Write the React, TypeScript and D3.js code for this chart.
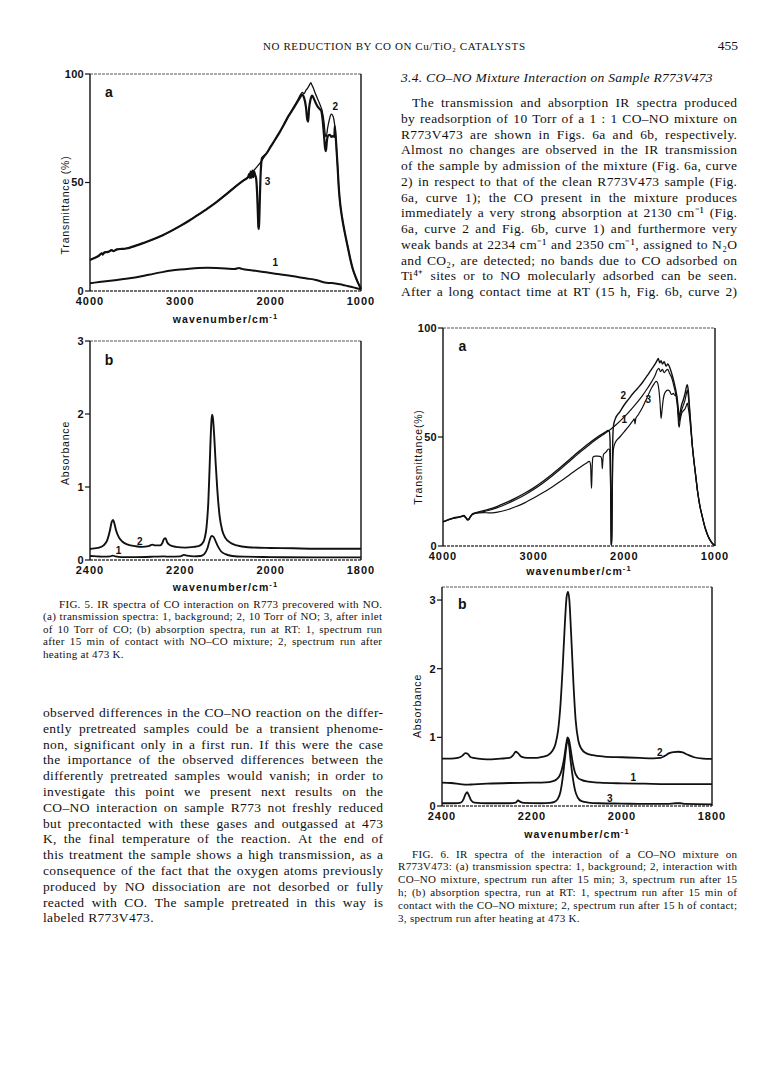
import React from "react";
import * as d3 from "d3";

type Pt = [number, number];

// ---------------- Fig. 5a (transmittance %, wavenumber cm-1) ----------------
const fig5aBackground: Pt[] = [
  [4000, 3.6], [3900, 4.1], [3800, 4.6], [3700, 5.1], [3600, 5.6], [3500, 6.2], [3400, 7.0],
  [3300, 7.9], [3200, 8.7], [3100, 9.4], [3000, 9.9], [2900, 10.3], [2800, 10.6], [2700, 10.7],
  [2600, 10.6], [2500, 10.4], [2400, 10.1], [2350, 10.6], [2320, 10.2], [2200, 9.5], [2100, 8.9],
  [2000, 8.3], [1900, 7.7], [1800, 7.1], [1700, 6.5], [1600, 5.8], [1500, 5.1], [1450, 4.5],
  [1400, 3.9], [1350, 3.7], [1300, 3.6], [1250, 3.2], [1200, 2.8], [1150, 2.3], [1100, 1.8],
  [1050, 1.3], [1000, 0.8],
];
const fig5aHead: Pt[] = [
  [4000, 14.3], [3950, 15.2], [3900, 16.3], [3870, 17.4], [3860, 16.8], [3840, 17.8], [3800, 18.0],
  [3760, 18.8], [3740, 18.4], [3700, 19.2], [3650, 19.4], [3600, 19.6], [3550, 20.1], [3500, 20.8],
  [3400, 22.2], [3300, 23.8], [3200, 25.6], [3100, 27.7], [3000, 30.0], [2900, 32.5], [2800, 35.2],
  [2700, 38.0], [2600, 41.0], [2500, 44.3], [2400, 47.8], [2300, 51.0], [2250, 52.5],
];
const fig5aTail: Pt[] = [
  [1290, 76.0], [1275, 68.0], [1260, 58.0], [1245, 47.0], [1230, 40.0], [1210, 34.0], [1180, 27.0],
  [1150, 21.0], [1120, 15.0], [1090, 10.0], [1060, 6.5], [1030, 3.5], [1000, 1.0],
];
const fig5aNO: Pt[] = [
  ...fig5aHead,
  [2200, 55.0], [2150, 57.3], [2100, 60.0], [2050, 63.2], [2000, 66.5], [1950, 69.8], [1900, 73.2],
  [1850, 77.0], [1800, 80.8], [1750, 84.5], [1700, 88.0], [1670, 90.5], [1650, 91.5], [1630, 91.0],
  [1610, 92.5], [1590, 93.5], [1570, 95.0], [1555, 96.0], [1545, 95.0], [1530, 93.8], [1510, 91.5],
  [1490, 89.5], [1470, 87.5], [1450, 85.5], [1430, 83.0], [1410, 78.0], [1395, 72.0], [1385, 71.0],
  [1370, 75.0], [1350, 79.0], [1330, 81.5], [1315, 81.0], [1300, 79.0],
  ...fig5aTail,
];
const fig5aCO: Pt[] = [
  ...fig5aHead,
  [2238, 54.0], [2230, 52.0], [2222, 55.0], [2212, 52.2], [2202, 55.5], [2192, 52.5], [2182, 55.0],
  [2172, 53.5], [2160, 51.5], [2150, 45.0], [2142, 36.0], [2136, 29.5], [2131, 28.5], [2126, 33.0],
  [2120, 42.0], [2113, 52.0], [2105, 58.5], [2095, 61.3], [2080, 62.0], [2050, 63.2], [2000, 66.5],
  [1950, 69.8], [1900, 73.2], [1850, 77.0], [1800, 80.8], [1750, 84.0], [1700, 87.5], [1670, 89.5],
  [1650, 90.5], [1630, 89.0], [1610, 85.0], [1595, 79.0], [1585, 78.0], [1575, 84.0], [1560, 88.0],
  [1540, 90.0], [1520, 88.5], [1500, 86.5], [1480, 85.0], [1460, 84.0], [1440, 83.0], [1425, 79.0],
  [1410, 72.0], [1398, 66.0], [1388, 64.5], [1378, 69.0], [1365, 71.5], [1345, 72.0], [1325, 71.0],
  [1305, 71.5], [1295, 71.0],
  ...fig5aTail,
];

// ---------------- Fig. 5b (absorbance) ----------------
const fig5bRun15min: Pt[] = [
  [2400, 0.055], [2385, 0.05], [2370, 0.045], [2355, 0.05], [2350, 0.06], [2344, 0.05], [2330, 0.04],
  [2300, 0.04], [2260, 0.045], [2236, 0.05], [2225, 0.045], [2200, 0.05], [2192, 0.07], [2185, 0.06],
  [2170, 0.05], [2155, 0.055], [2147, 0.08], [2140, 0.16], [2135, 0.27], [2131, 0.33], [2127, 0.32],
  [2122, 0.26], [2117, 0.19], [2110, 0.12], [2100, 0.08], [2085, 0.055], [2060, 0.045], [2000, 0.04],
  [1900, 0.035], [1800, 0.035],
];
const fig5bHeated: Pt[] = [
  [2400, 0.15], [2390, 0.16], [2380, 0.17], [2370, 0.2], [2362, 0.27], [2356, 0.4], [2352, 0.52],
  [2349, 0.55], [2346, 0.5], [2342, 0.4], [2336, 0.31], [2328, 0.25], [2316, 0.21], [2300, 0.19],
  [2285, 0.18], [2270, 0.19], [2262, 0.21], [2255, 0.2], [2245, 0.2], [2240, 0.23], [2236, 0.29],
  [2233, 0.3], [2229, 0.24], [2222, 0.2], [2210, 0.18], [2190, 0.17], [2170, 0.18], [2160, 0.19],
  [2152, 0.22], [2146, 0.3], [2142, 0.45], [2138, 0.8], [2135, 1.3], [2132, 1.8], [2130, 1.99],
  [2128, 1.95], [2125, 1.7], [2122, 1.35], [2118, 0.95], [2113, 0.6], [2107, 0.4], [2100, 0.3],
  [2090, 0.24], [2075, 0.2], [2050, 0.175], [2000, 0.165], [1950, 0.16], [1900, 0.155], [1850, 0.155],
  [1800, 0.155],
];

// ---------------- Fig. 6a (transmittance %) ----------------
const fig6aTail: Pt[] = [
  [1250, 46.0], [1235, 40.0], [1215, 33.0], [1192, 25.0], [1165, 18.0], [1140, 13.5], [1110, 8.5],
  [1090, 6.0], [1065, 3.5], [1040, 1.8], [1020, 0.8], [1000, 0.2],
];
const fig6aBackground: Pt[] = [
  [4000, 11.0], [3950, 11.8], [3900, 12.5], [3850, 13.0], [3800, 13.4], [3770, 13.8], [3750, 13.0],
  [3730, 12.0], [3715, 12.2], [3700, 13.2], [3680, 14.3], [3650, 14.9], [3600, 15.4], [3550, 15.8],
  [3500, 16.3], [3400, 17.6], [3300, 19.3], [3200, 21.2], [3100, 23.4], [3000, 25.9], [2900, 28.8],
  [2800, 32.0], [2700, 35.4], [2600, 39.0], [2500, 42.6], [2400, 46.0], [2300, 49.2], [2200, 52.0],
  [2100, 55.3], [2000, 59.2], [1900, 63.8], [1800, 69.0], [1750, 72.0], [1700, 75.3], [1660, 78.3],
  [1640, 80.5], [1620, 81.5], [1600, 80.0], [1580, 81.0], [1560, 79.5], [1540, 80.5], [1520, 81.0],
  [1500, 79.0], [1480, 77.5], [1460, 74.5], [1440, 71.0], [1420, 66.0], [1405, 60.0], [1395, 57.0],
  [1385, 59.0], [1370, 62.0], [1350, 64.5], [1330, 67.0], [1315, 70.0], [1305, 71.5], [1295, 69.0],
  [1280, 62.0], [1265, 54.0],
  ...fig6aTail,
];
const fig6aMix15min: Pt[] = [
  [4000, 11.2], [3950, 12.0], [3900, 12.7], [3850, 13.2], [3800, 13.6], [3770, 14.0], [3750, 13.2],
  [3730, 12.3], [3715, 12.5], [3700, 13.5], [3680, 14.6], [3650, 15.2], [3600, 15.7], [3550, 16.2],
  [3500, 16.8], [3400, 18.2], [3300, 20.0], [3200, 22.0], [3100, 24.2], [3000, 26.7], [2900, 29.6],
  [2800, 32.8], [2700, 36.2], [2600, 39.8], [2500, 43.4], [2400, 46.8], [2300, 49.8], [2250, 51.2],
  [2200, 52.5], [2180, 53.0], [2165, 52.5], [2157, 48.0], [2151, 30.0], [2147, 8.0], [2144, 0.8],
  [2140, 0.5], [2137, 8.0], [2133, 30.0], [2128, 48.0], [2120, 55.0], [2100, 58.3], [2050, 61.5],
  [2000, 64.8], [1950, 67.5], [1900, 70.2], [1850, 72.5], [1800, 75.0], [1750, 78.0], [1700, 81.0],
  [1660, 83.5], [1640, 85.0], [1625, 86.0], [1610, 84.0], [1595, 85.0], [1580, 83.5], [1560, 84.5],
  [1540, 82.5], [1520, 83.5], [1500, 82.0], [1480, 79.5], [1460, 76.5], [1440, 73.0], [1420, 68.5],
  [1405, 63.0], [1395, 58.5], [1385, 61.0], [1370, 64.5], [1350, 67.0], [1330, 70.0], [1315, 73.0],
  [1305, 74.0], [1295, 71.5], [1280, 63.0], [1265, 54.5],
  ...fig6aTail,
];
const fig6aMix15h: Pt[] = [
  [4000, 11.0], [3950, 11.8], [3900, 12.5], [3850, 13.0], [3800, 13.4], [3770, 13.8], [3750, 13.0],
  [3730, 12.0], [3715, 12.2], [3700, 13.2], [3680, 14.3], [3650, 14.9], [3600, 15.2], [3550, 15.3],
  [3500, 15.2], [3450, 15.2], [3400, 15.5], [3300, 16.5], [3200, 18.0], [3100, 19.8], [3000, 22.0],
  [2900, 24.4], [2800, 27.0], [2700, 29.8], [2600, 32.8], [2500, 35.8], [2420, 38.0], [2385, 38.8],
  [2372, 37.0], [2366, 30.0], [2362, 26.5], [2358, 31.0], [2352, 38.5], [2345, 40.8], [2320, 41.2],
  [2290, 41.2], [2260, 41.0], [2248, 39.0], [2243, 35.5], [2238, 38.5], [2230, 42.0], [2200, 43.2],
  [2175, 44.5], [2163, 44.0], [2157, 40.0], [2151, 25.0], [2147, 6.0], [2144, 0.8], [2140, 0.5],
  [2137, 6.0], [2133, 22.0], [2128, 38.0], [2120, 44.5], [2100, 47.5], [2050, 50.0], [2000, 52.5],
  [1950, 55.0], [1905, 57.5], [1890, 58.3], [1882, 56.0], [1874, 58.5], [1850, 60.0], [1800, 63.5],
  [1750, 68.0], [1700, 72.5], [1670, 74.5], [1650, 75.5], [1635, 75.0], [1620, 72.0], [1605, 65.0],
  [1595, 58.5], [1585, 62.0], [1570, 67.5], [1550, 70.5], [1520, 71.5], [1500, 71.0], [1480, 69.5],
  [1460, 70.0], [1440, 69.0], [1425, 69.5], [1412, 64.0], [1402, 56.0], [1395, 54.5], [1385, 57.5],
  [1370, 60.5], [1350, 62.0], [1330, 63.0], [1315, 64.5], [1305, 65.5], [1295, 63.5], [1280, 59.0],
  [1265, 52.5],
  ...fig6aTail,
];

// ---------------- Fig. 6b (absorbance) ----------------
const fig6bRun15min: Pt[] = [
  [2400, 0.34], [2380, 0.335], [2360, 0.32], [2345, 0.31], [2330, 0.315], [2300, 0.325], [2250, 0.335],
  [2200, 0.34], [2170, 0.345], [2155, 0.36], [2145, 0.39], [2138, 0.45], [2133, 0.55], [2128, 0.72],
  [2124, 0.9], [2121, 1.0], [2118, 0.97], [2114, 0.82], [2110, 0.65], [2105, 0.5], [2099, 0.42],
  [2090, 0.38], [2075, 0.355], [2050, 0.34], [2000, 0.33], [1950, 0.325], [1900, 0.32], [1850, 0.32],
  [1800, 0.32],
];
const fig6bRun15h: Pt[] = [
  [2400, 0.69], [2380, 0.69], [2365, 0.7], [2355, 0.73], [2348, 0.77], [2343, 0.76], [2336, 0.71],
  [2320, 0.69], [2300, 0.68], [2270, 0.69], [2250, 0.7], [2242, 0.74], [2236, 0.79], [2231, 0.77],
  [2224, 0.72], [2210, 0.7], [2190, 0.7], [2175, 0.72], [2165, 0.74], [2155, 0.8], [2148, 0.9],
  [2142, 1.1], [2137, 1.45], [2132, 2.0], [2127, 2.65], [2123, 3.05], [2120, 3.12], [2117, 3.0],
  [2113, 2.5], [2108, 1.8], [2103, 1.25], [2097, 0.95], [2090, 0.83], [2080, 0.77], [2065, 0.74],
  [2040, 0.72], [2000, 0.71], [1960, 0.7], [1930, 0.695], [1915, 0.7], [1905, 0.73], [1895, 0.77],
  [1885, 0.785], [1875, 0.79], [1865, 0.78], [1855, 0.75], [1840, 0.71], [1820, 0.69], [1800, 0.685],
];
const fig6bHeated: Pt[] = [
  [2400, 0.04], [2370, 0.04], [2358, 0.05], [2352, 0.1], [2348, 0.17], [2344, 0.2], [2340, 0.15],
  [2335, 0.08], [2328, 0.05], [2300, 0.04], [2250, 0.04], [2236, 0.05], [2231, 0.08], [2226, 0.06],
  [2218, 0.045], [2180, 0.04], [2160, 0.045], [2150, 0.06], [2143, 0.1], [2137, 0.2], [2132, 0.4],
  [2127, 0.68], [2123, 0.9], [2121, 0.97], [2118, 0.9], [2114, 0.65], [2109, 0.4], [2104, 0.22],
  [2098, 0.12], [2090, 0.07], [2075, 0.05], [2050, 0.04], [2000, 0.035], [1950, 0.03], [1900, 0.03],
  [1880, 0.04], [1870, 0.04], [1860, 0.03], [1800, 0.025],
];

// ---------------- ticks ----------------
const transTicksX = [4000, 3000, 2000, 1000];
const transTicksY = [100, 50, 0];
const absTicksX = [2400, 2200, 2000, 1800];
const absTicksY = [3, 2, 1, 0];

// ---------------- curve labels (data units) ----------------
const fig5aLabels = [
  { t: "a", w: 3790, v: 91.5, big: true },
  { t: "2", w: 1285, v: 85 },
  { t: "3", w: 2035, v: 50.5 },
  { t: "1", w: 1950, v: 13 },
];
const fig5bLabels = [
  { t: "b", w: 2358, v: 2.74, big: true },
  { t: "2", w: 2290, v: 0.25 },
  { t: "1", w: 2337, v: 0.13 },
];
const fig6aLabels = [
  { t: "a", w: 3787, v: 91.6, big: true },
  { t: "2", w: 2012, v: 69 },
  { t: "1", w: 2000, v: 58 },
  { t: "3", w: 1737, v: 67 },
];
const fig6bLabels = [
  { t: "b", w: 2355, v: 2.94, big: true },
  { t: "2", w: 1916, v: 0.78 },
  { t: "1", w: 1975, v: 0.42 },
  { t: "3", w: 2027, v: 0.11 },
];

// ---------------- page text ----------------
const headerText = "NO REDUCTION BY CO ON Cu/TiO₂ CATALYSTS";
const pageNumber = "455";
const sectionTitle = "3.4. CO–NO Mixture Interaction on Sample R773V473";
const rightParagraph = [
  "The transmission and absorption IR spectra produced",
  "by readsorption of 10 Torr of a 1 : 1 CO–NO mixture on",
  "R773V473 are shown in Figs. 6a and 6b, respectively.",
  "Almost no changes are observed in the IR transmission",
  "of the sample by admission of the mixture (Fig. 6a, curve",
  "2) in respect to that of the clean R773V473 sample (Fig.",
  "6a, curve 1); the CO present in the mixture produces",
  "immediately a very strong absorption at 2130 cm⁻¹ (Fig.",
  "6a, curve 2 and Fig. 6b, curve 1) and furthermore very",
  "weak bands at 2234 cm⁻¹ and 2350 cm⁻¹, assigned to N₂O",
  "and CO₂, are detected; no bands due to CO adsorbed on",
  "Ti⁴⁺ sites or to NO molecularly adsorbed can be seen.",
  "After a long contact time at RT (15 h, Fig. 6b, curve 2)",
];
const leftParagraph = [
  "observed differences in the CO–NO reaction on the differ-",
  "ently pretreated samples could be a transient phenome-",
  "non, significant only in a first run. If this were the case",
  "the importance of the observed differences between the",
  "differently pretreated samples would vanish; in order to",
  "investigate this point we present next results on the",
  "CO–NO interaction on sample R773 not freshly reduced",
  "but precontacted with these gases and outgassed at 473",
  "K, the final temperature of the reaction. At the end of",
  "this treatment the sample shows a high transmission, as a",
  "consequence of the fact that the oxygen atoms previously",
  "produced by NO dissociation are not desorbed or fully",
  "reacted with CO. The sample pretreated in this way is",
  "labeled R773V473.",
];
const fig5Caption = [
  "FIG. 5.   IR spectra of CO interaction on R773 precovered with NO.",
  "(a) transmission spectra: 1, background; 2, 10 Torr of NO; 3, after inlet",
  "of 10 Torr of CO; (b) absorption spectra, run at RT: 1, spectrum run",
  "after 15 min of contact with NO–CO mixture; 2, spectrum run after",
  "heating at 473 K.",
];
const fig6Caption = [
  "FIG. 6.   IR spectra of the interaction of a CO–NO mixture on",
  "R773V473: (a) transmission spectra: 1, background; 2, interaction with",
  "CO–NO mixture, spectrum run after 15 min; 3, spectrum run after 15",
  "h; (b) absorption spectra, run at RT: 1, spectrum run after 15 min of",
  "contact with the CO–NO mixture; 2, spectrum run after 15 h of contact;",
  "3, spectrum run after heating at 473 K.",
];

// ---------------- layout ----------------
const SERIF = '"Liberation Serif", "Times New Roman", serif';
const SANS = '"Liberation Sans", Arial, Helvetica, sans-serif';

type Series = { data: Pt[]; width: number };
type PanelCfg = {
  left: number; right: number; top: number; bottom: number;
  xDomain: [number, number]; yDomain: [number, number];
  xTicks: number[]; yTicks: number[];
  yTitle: string; yTitleCy: number; xTitleCy: number;
  series: Series[];
  labels: { t: string; w: number; v: number; big?: boolean }[];
};

const panels: PanelCfg[] = [
  {
    left: 90, right: 361, top: 74, bottom: 291, xDomain: [4000, 1000], yDomain: [0, 100],
    xTicks: transTicksX, yTicks: transTicksY, yTitle: "Transmittance (%)", yTitleCy: 205, xTitleCy: 319,
    series: [
      { data: fig5aBackground, width: 2.0 },
      { data: fig5aNO, width: 1.3 },
      { data: fig5aCO, width: 2.2 },
    ],
    labels: fig5aLabels,
  },
  {
    left: 90, right: 361, top: 341, bottom: 560, xDomain: [2400, 1800], yDomain: [0, 3],
    xTicks: absTicksX, yTicks: absTicksY, yTitle: "Absorbance", yTitleCy: 453, xTitleCy: 587,
    series: [
      { data: fig5bRun15min, width: 1.8 },
      { data: fig5bHeated, width: 1.9 },
    ],
    labels: fig5bLabels,
  },
  {
    left: 443, right: 715, top: 328, bottom: 546, xDomain: [4000, 1000], yDomain: [0, 100],
    xTicks: transTicksX, yTicks: transTicksY, yTitle: "Transmittance(%)", yTitleCy: 457, xTitleCy: 571,
    series: [
      { data: fig6aBackground, width: 1.2 },
      { data: fig6aMix15min, width: 1.4 },
      { data: fig6aMix15h, width: 1.2 },
    ],
    labels: fig6aLabels,
  },
  {
    left: 442, right: 712, top: 587, bottom: 806, xDomain: [2400, 1800], yDomain: [0, 3.19],
    xTicks: absTicksX, yTicks: absTicksY, yTitle: "Absorbance", yTitleCy: 706, xTitleCy: 834,
    series: [
      { data: fig6bRun15min, width: 1.8 },
      { data: fig6bRun15h, width: 1.8 },
      { data: fig6bHeated, width: 1.8 },
    ],
    labels: fig6bLabels,
  },
];

// ---------------- text helpers ----------------
let measureCtx: CanvasRenderingContext2D | null = null;
function textWidth(s: string, font: string): number {
  if (!measureCtx) {
    const c = document.createElement("canvas");
    measureCtx = c.getContext("2d");
  }
  if (!measureCtx) return s.length * 6;
  measureCtx.font = font;
  return measureCtx.measureText(s).width;
}

function Line({
  x, y, width, text, size, ls, italic, justify, indent = 0,
}: {
  x: number; y: number; width: number; text: string; size: number; ls: number; italic?: boolean; justify: boolean; indent?: number;
}) {
  const font = `${italic ? "italic " : ""}${size}px ${SERIF}`;
  const common = {
    fontFamily: SERIF,
    fontSize: size,
    fontStyle: italic ? "italic" : "normal",
    letterSpacing: ls,
    fill: "#111",
  } as const;
  if (!justify) {
    return <text x={x + indent} y={y} {...common}>{text}</text>;
  }
  const words = text.split(/\s+/).filter((w) => w.length > 0);
  const widths = words.map((w) => textWidth(w, font) + ls * (Array.from(w).length - 1));
  const total = widths.reduce((a, b) => a + b, 0);
  const gap = words.length > 1 ? (width - indent - total) / (words.length - 1) : 0;
  let cx = x + indent;
  const spans = words.map((w, i) => {
    const el = <tspan key={i} x={cx}>{w}</tspan>;
    cx += widths[i] + gap;
    return el;
  });
  return <text y={y} {...common}>{spans}</text>;
}

function Block({
  lines, x, y0, dy, width, size, ls, indentFirst, justifyLast,
}: {
  lines: string[]; x: number; y0: number; dy: number; width: number; size: number; ls: number; indentFirst: number; justifyLast: boolean;
}) {
  return (
    <g>
      {lines.map((l, i) => (
        <Line
          key={i}
          x={x}
          y={y0 + i * dy}
          width={width}
          text={l}
          size={size}
          ls={ls}
          justify={i < lines.length - 1 || justifyLast}
          indent={i === 0 ? indentFirst : 0}
        />
      ))}
    </g>
  );
}

// ---------------- chart panel ----------------
function Panel({ cfg }: { cfg: PanelCfg }) {
  const x = d3.scaleLinear().domain(cfg.xDomain).range([cfg.left, cfg.right]);
  const y = d3.scaleLinear().domain(cfg.yDomain).range([cfg.bottom, cfg.top]);
  const line = d3
    .line<Pt>()
    .x((d) => x(d[0]))
    .y((d) => y(d[1]))
    .curve(d3.curveMonotoneX);
  const cx = (cfg.left + cfg.right) / 2;
  const tx = cfg.left - 25;
  return (
    <g>
      {/* frame */}
      <line x1={cfg.left} x2={cfg.right} y1={cfg.top} y2={cfg.top} stroke="#555" strokeWidth={1.2} strokeDasharray="3 1" />
      <line x1={cfg.left} x2={cfg.right} y1={cfg.bottom} y2={cfg.bottom} stroke="#444" strokeWidth={1.3} strokeDasharray="3 1" />
      <line x1={cfg.left} x2={cfg.left} y1={cfg.top} y2={cfg.bottom} stroke="#111" strokeWidth={1.4} />
      <line x1={cfg.right} x2={cfg.right} y1={cfg.top} y2={cfg.bottom} stroke="#111" strokeWidth={1.4} />
      {/* curves */}
      {cfg.series.map((s, i) => (
        <path key={i} d={line(s.data) || ""} fill="none" stroke="#111" strokeWidth={s.width} strokeLinejoin="round" />
      ))}
      {/* y ticks */}
      {cfg.yTicks.map((t) => (
        <g key={t}>
          <line x1={cfg.left - 5} x2={cfg.left} y1={y(t)} y2={y(t)} stroke="#111" strokeWidth={1.2} />
          <text
            x={cfg.left - 6}
            y={y(t)}
            dy="0.35em"
            textAnchor="end"
            fontFamily={SANS}
            fontWeight="bold"
            fontSize={11}
            letterSpacing={0.3}
            fill="#111"
          >
            {t}
          </text>
        </g>
      ))}
      {/* x tick labels */}
      {cfg.xTicks.map((t) => (
        <text
          key={t}
          x={x(t)}
          y={cfg.bottom + 10}
          dy="0.35em"
          textAnchor="middle"
          fontFamily={SANS}
          fontWeight="bold"
          fontSize={11}
          letterSpacing={1}
          fill="#111"
        >
          {t}
        </text>
      ))}
      {/* axis titles */}
      <text
        x={cx}
        y={cfg.xTitleCy}
        dy="0.35em"
        textAnchor="middle"
        fontFamily={SANS}
        fontWeight="bold"
        fontSize={10.5}
        letterSpacing={1.1}
        fill="#111"
      >
        wavenumber/cm
        <tspan dy={-4} fontSize={7.5}>-1</tspan>
      </text>
      <text
        transform={`translate(${tx},${cfg.yTitleCy}) rotate(-90)`}
        dy="0.35em"
        textAnchor="middle"
        fontFamily={SANS}
        fontSize={10.5}
        letterSpacing={0.8}
        fill="#111"
      >
        {cfg.yTitle}
      </text>
      {/* curve labels */}
      {cfg.labels.map((l, i) => (
        <text
          key={i}
          x={x(l.w)}
          y={y(l.v)}
          dy="0.35em"
          textAnchor="middle"
          fontFamily={SANS}
          fontWeight="bold"
          fontSize={l.big ? 14 : 10}
          fill="#111"
        >
          {l.t}
        </text>
      ))}
    </g>
  );
}

export default function App() {
  return (
    <svg
      width={780}
      height={1065}
      viewBox="0 0 780 1065"
      style={{ position: "absolute", left: 0, top: 0, background: "#fff", display: "block" }}
    >
      <rect x={0} y={0} width={780} height={1065} fill="#fff" />
      {/* running header */}
      <text x={263} y={50} textLength={262} lengthAdjust="spacing" fontFamily={SERIF} fontSize={11} fill="#111">
        {headerText}
      </text>
      <text x={738} y={50} textAnchor="end" fontFamily={SERIF} fontSize={13.5} fill="#111">
        {pageNumber}
      </text>

      {/* right column text */}
      <Line x={401} y={82} width={336} text={sectionTitle} size={13.5} ls={0.3} italic justify={false} />
      <Block lines={rightParagraph} x={401} y0={107} dy={15.75} width={336} size={13.5} ls={0.35} indentFirst={11} justifyLast={true} />

      {/* charts */}
      {panels.map((p, i) => (
        <Panel key={i} cfg={p} />
      ))}

      {/* captions */}
      <Block lines={fig5Caption} x={43} y0={607.5} dy={12.5} width={339} size={11} ls={0.3} indentFirst={16} justifyLast={false} />
      <Block lines={fig6Caption} x={398} y0={857.5} dy={12.9} width={339} size={11} ls={0.3} indentFirst={14} justifyLast={false} />

      {/* left column body */}
      <Block lines={leftParagraph} x={43} y0={717} dy={15.8} width={340} size={13.5} ls={0.35} indentFirst={0} justifyLast={false} />
    </svg>
  );
}
